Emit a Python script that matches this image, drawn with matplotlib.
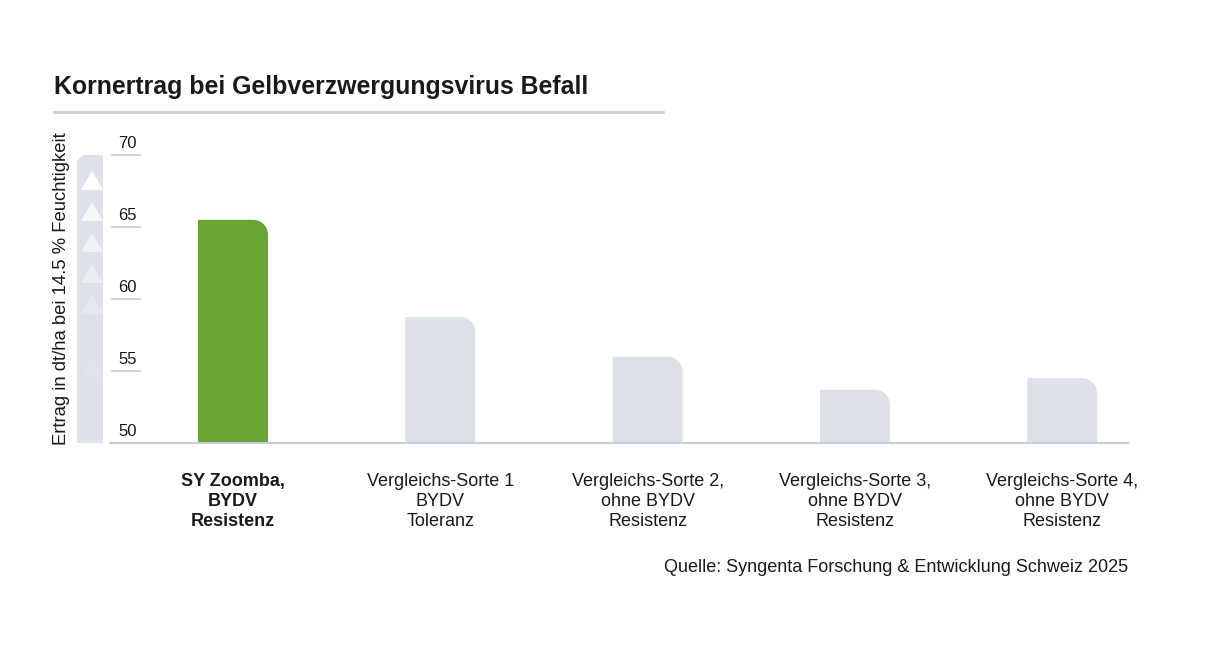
import numpy as np
import matplotlib
matplotlib.use("Agg")
import matplotlib.pyplot as plt
from matplotlib.patches import Polygon
from matplotlib.lines import Line2D

# ---------------- data ----------------
categories = [
    "SY Zoomba,\nBYDV\nResistenz",
    "Vergleichs-Sorte 1\nBYDV\nToleranz",
    "Vergleichs-Sorte 2,\nohne BYDV\nResistenz",
    "Vergleichs-Sorte 3,\nohne BYDV\nResistenz",
    "Vergleichs-Sorte 4,\nohne BYDV\nResistenz",
]
yields = [65.5, 58.75, 56.0, 53.7, 54.5]
y_ticks = [50, 55, 60, 65, 70]

title = "Kornertrag bei Gelbverzwergungsvirus Befall"
ylabel = "Ertrag in dt/ha bei 14.5 % Feuchtigkeit"
source = "Quelle: Syngenta Forschung & Entwicklung Schweiz 2025"

GREEN = "#68a532"
GREY = "#dde1ea"
LINE = "#c5cedb"
TEXT = "#1a1a1a"

plt.rcParams["font.family"] = ["Liberation Sans", "DejaVu Sans"]

W, H = 1216, 652
fig = plt.figure(figsize=(W / 100, H / 100), dpi=100)


def fx(px):
    return px / W


def fy(py):
    return 1 - py / H


# axes placed in pixel units
ax_l, ax_r, ax_t, ax_b = 110, 1128, 155, 443
ax = fig.add_axes([fx(ax_l), fy(ax_b), fx(ax_r - ax_l), (ax_b - ax_t) / H])
ax.set_facecolor("none")

x = np.arange(len(categories))
x_scale = 207.3  # px per category
xlim = (-123 / x_scale, (ax_r - ax_l - 123) / x_scale)
ylim = (50, 70)
ax.set_xlim(*xlim)
ax.set_ylim(*ylim)
y_scale = (ax_b - ax_t) / (ylim[1] - ylim[0])

bar_w = 70 / x_scale
radius = 15  # px, rounded top-right corner
rx, ry = radius / x_scale, radius / y_scale

for i, (xi, v) in enumerate(zip(x, yields)):
    left, right = xi - bar_w / 2, xi + bar_w / 2
    theta = np.linspace(np.pi / 2, 0, 20)
    arc = np.column_stack([right - rx + rx * np.cos(theta), v - ry + ry * np.sin(theta)])
    pts = np.vstack([[left, ylim[0]], [left, v], arc, [right, ylim[0]]])
    ax.add_patch(Polygon(pts, closed=True, facecolor=GREEN if i == 0 else GREY,
                         edgecolor="none", zorder=2))

# baseline
ax.axhline(ylim[0], color=LINE, lw=1.5, zorder=3, clip_on=False)

# custom y ticks: short lines with labels above
for t in y_ticks:
    ax.plot([0.002, 0.029], [t, t], transform=ax.get_yaxis_transform(),
            color=LINE, lw=1.3, clip_on=False, zorder=3)
    ax.text(0.008, t + 0.25, str(t), transform=ax.get_yaxis_transform(),
            ha="left", va="bottom", fontsize=12, color=TEXT)

ax.set_xticks([])
ax.set_yticks([])
for s in ax.spines.values():
    s.set_visible(False)

# category labels
for i, (xi, lab) in enumerate(zip(x, categories)):
    ax.annotate(lab, xy=(xi, ylim[0]), xycoords="data", xytext=(0, -30),
                textcoords="offset pixels", ha="center", va="top",
                fontsize=13, color=TEXT, linespacing=1.25,
                fontweight="bold" if i == 0 else "normal")

# decorative left column, top-left corner rounded, with fading arrows
pl, pr, pt, pb, pr_ = 77, 103, 155, 443, 9
th = np.linspace(np.pi, np.pi / 2, 15)
corner = np.column_stack([pl + pr_ + pr_ * np.cos(th), pt + pr_ - pr_ * np.sin(th)])
pill_px = np.vstack([[pl, pb], corner, [pr, pt], [pr, pb]])
fig.add_artist(Polygon(np.column_stack([fx(pill_px[:, 0]), fy(pill_px[:, 1])]),
                       closed=True, transform=fig.transFigure, facecolor=GREY,
                       edgecolor="none"))
tri_y = [181, 212, 243, 274, 305, 368]
tri_a = [1.0, 0.75, 0.55, 0.4, 0.25, 0.12]
for ty, a in zip(tri_y, tri_a):
    tri = Polygon([[fx(81), fy(ty + 9)], [fx(103), fy(ty + 9)], [fx(92), fy(ty - 10)]],
                  closed=True, transform=fig.transFigure, facecolor="white",
                  edgecolor="none", alpha=a)
    fig.add_artist(tri)

# y label
fig.text(fx(62), fy(289), ylabel, rotation=90, ha="center", va="center",
         fontsize=13.3, color=TEXT)

# title and underline
fig.text(fx(54), fy(87), title, ha="left", va="center", fontsize=17.9,
         fontweight="bold", color=TEXT)
fig.add_artist(Line2D([fx(54), fx(663)], [fy(112), fy(112)], color=LINE, lw=2))

# source
fig.text(fx(1128), fy(568), source, ha="right", va="center", fontsize=13,
         color=TEXT)

fig.savefig("out.png", dpi=100, facecolor="white")
